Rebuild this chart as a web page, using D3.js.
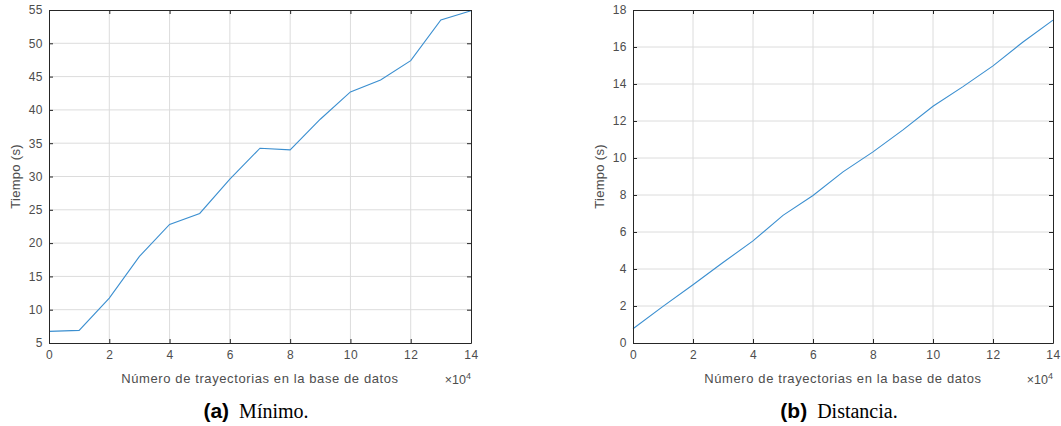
<!DOCTYPE html>
<html>
<head>
<meta charset="utf-8">
<script src="https://cdn.jsdelivr.net/npm/d3@7"></script>
<style>
  body { margin: 0; background: #fff; }
  svg text { font-family: "Liberation Sans", Arial, sans-serif; }
</style>
</head>
<body>
<div id="chart"></div>
<script>
// x in units of 1e4 trajectories
var nTray      = [0, 1, 2, 3, 4, 5, 6, 7, 8, 9, 10, 11, 12, 13, 14];
var tMinimo    = [6.75, 6.9, 11.75, 18.0, 22.8, 24.45, 29.6, 34.25, 34.0, 38.6, 42.7, 44.5, 47.4, 53.5, 54.9];
var tDistancia = [0.77, 1.98, 3.15, 4.35, 5.52, 6.9, 7.97, 9.25, 10.33, 11.52, 12.8, 13.86, 14.98, 16.27, 17.45];
var xTicks     = [0, 2, 4, 6, 8, 10, 12, 14];
var yTicksA    = [5, 10, 15, 20, 25, 30, 35, 40, 45, 50, 55];
var yTicksB    = [0, 2, 4, 6, 8, 10, 12, 14, 16, 18];

var W = 1061, H = 426;
var svg = d3.select("#chart").append("svg")
            .attr("width", W)
            .attr("height", H);

function drawPanel(opt)
{
	var x = d3.scaleLinear().domain([0, 14]).range([opt.left, opt.right]);
	var y = d3.scaleLinear().domain(opt.yDomain).range([opt.bottom, opt.top]);
	var g = svg.append("g");
	var axisCol = "#262626";
	var txtCol = "#4d4d4d";

	// grid
	g.selectAll("line.gx").data(xTicks.slice(1, -1)).enter().append("line")
		.attr("x1", function(d){return x(d)}).attr("x2", function(d){return x(d)})
		.attr("y1", opt.top).attr("y2", opt.bottom)
		.attr("stroke", "#dcdcdc").attr("stroke-width", 1);
	g.selectAll("line.gy").data(opt.yTicks.slice(1, -1)).enter().append("line")
		.attr("y1", function(d){return y(d)}).attr("y2", function(d){return y(d)})
		.attr("x1", opt.left).attr("x2", opt.right)
		.attr("stroke", "#dcdcdc").attr("stroke-width", 1);

	// series
	var line = d3.line().x(function(d,i){return x(nTray[i])}).y(function(d){return y(d)});
	g.append("path").datum(opt.values)
		.attr("d", line).attr("fill", "none")
		.attr("stroke", "#3b8fd0").attr("stroke-width", 1.1);

	// axes with inward ticks on all sides
	var ax = [
		{a: d3.axisBottom(x).tickValues(xTicks).tickSizeInner(-4).tickSizeOuter(0).tickPadding(7), t: "translate(0," + opt.bottom + ")"},
		{a: d3.axisTop(x).tickValues(xTicks).tickSizeInner(-4).tickSizeOuter(0).tickFormat(""), t: "translate(0," + opt.top + ")"},
		{a: d3.axisLeft(y).tickValues(opt.yTicks).tickSizeInner(-4).tickSizeOuter(0).tickPadding(6), t: "translate(" + opt.left + ",0)"},
		{a: d3.axisRight(y).tickValues(opt.yTicks).tickSizeInner(-4).tickSizeOuter(0).tickFormat(""), t: "translate(" + opt.right + ",0)"}
	];
	ax.forEach(function(o){
		var a = g.append("g").attr("transform", o.t).call(o.a);
		a.select(".domain").attr("stroke", axisCol).attr("stroke-width", 1);
		a.selectAll(".tick line").attr("stroke", axisCol);
		a.selectAll(".tick text").attr("fill", txtCol).style("font-size", "12px")
			.style("letter-spacing", "0.5px")
			.style("font-family", "Liberation Sans, Arial, sans-serif");
	});

	// labels
	g.append("text").attr("x", (opt.left + opt.right) / 2).attr("y", opt.bottom + 40)
		.attr("text-anchor", "middle").attr("fill", txtCol)
		.style("font-size", "13px").style("letter-spacing", "0.6px")
		.text("Número de trayectorias en la base de datos");
	g.append("text")
		.attr("transform", "translate(" + (opt.left - 29) + "," + ((opt.top + opt.bottom) / 2) + ") rotate(-90)")
		.attr("text-anchor", "middle").attr("fill", txtCol)
		.style("font-size", "13px").style("letter-spacing", "0.3px")
		.text("Tiempo (s)");
	var ex = g.append("text").attr("x", opt.right).attr("y", opt.bottom + 41)
		.attr("text-anchor", "end").attr("fill", txtCol).style("font-size", "12.5px");
	ex.append("tspan").text("×10");
	ex.append("tspan").attr("dy", -5).style("font-size", "9px").text("4");

	// caption
	var cap = g.append("text").attr("x", (opt.left + opt.right) / 2 - 4).attr("y", 418)
		.attr("text-anchor", "middle").attr("fill", "#000");
	cap.append("tspan").style("font-family", "Liberation Sans, Arial, sans-serif")
		.style("font-weight", "bold").style("font-size", "21px").text(opt.tag);
	cap.append("tspan").style("font-family", "Liberation Serif, Times New Roman, serif")
		.style("font-size", "20px").text("\u2002" + opt.caption);
}

drawPanel({left: 49, right: 471, top: 10, bottom: 343, yDomain: [5, 55], yTicks: yTicksA, values: tMinimo, tag: "(a)", caption: "Mínimo."});
drawPanel({left: 633, right: 1053, top: 10, bottom: 343, yDomain: [0, 18], yTicks: yTicksB, values: tDistancia, tag: "(b)", caption: "Distancia."});
</script>
</body>
</html>
